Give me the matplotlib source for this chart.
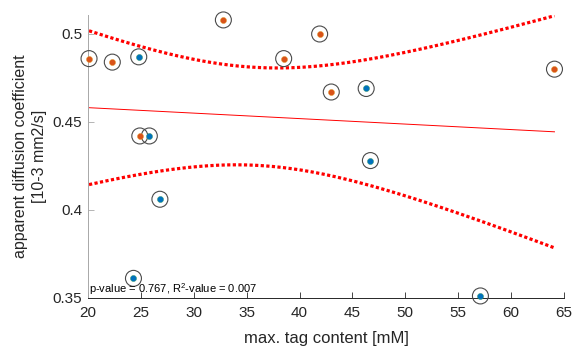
import numpy as np
import matplotlib
matplotlib.use("Agg")
import matplotlib.pyplot as plt

# Measurements: max. tag content [mM] vs. apparent diffusion coefficient
orange_x = [20.1, 22.3, 32.8, 38.5, 24.9, 41.9, 43.0, 64.1]
orange_y = [0.486, 0.484, 0.508, 0.486, 0.442, 0.500, 0.467, 0.480]
blue_x = [24.8, 25.8, 46.3, 46.7, 26.8, 24.3, 57.1]
blue_y = [0.487, 0.442, 0.469, 0.428, 0.406, 0.361, 0.351]

xticks = [20, 25, 30, 35, 40, 45, 50, 55, 60, 65]
yticks = [0.35, 0.4, 0.45, 0.5]
ytick_labels = ["0.35", "0.4", "0.45", "0.5"]
stats_text = "p-value = 0.767, R$^2$-value = 0.007"

plt.rcParams["font.family"] = ["Liberation Sans", "DejaVu Sans"]
plt.rcParams["mathtext.fontset"] = "custom"
plt.rcParams["mathtext.rm"] = "Liberation Sans"

ORANGE = "#D95319"
BLUE = "#0072BD"
TXT = "#262626"

# Linear fit with 95% confidence bounds of the mean
x = np.array(orange_x + blue_x)
y = np.array(orange_y + blue_y)
n = len(x)
slope, intercept = np.polyfit(x, y, 1)
resid = y - (intercept + slope * x)
s = np.sqrt(np.sum(resid**2) / (n - 2))
xbar = x.mean()
sxx = np.sum((x - xbar) ** 2)
t_crit = 2.160  # t(0.975, n-2)
xf = np.linspace(x.min(), x.max(), 200)
yf = intercept + slope * xf
half = t_crit * s * np.sqrt(1.0 / n + (xf - xbar) ** 2 / sxx)

fig = plt.figure(figsize=(5.83, 3.49), dpi=100)
ax = fig.add_axes([0.1509, 0.147, 0.8165, 0.81])

ax.plot(xf, yf, color="red", lw=0.7, zorder=2)
ax.plot(xf, yf + half, color="red", lw=2.3, linestyle=(0, (1.0, 0.75)),
        dash_capstyle="butt", zorder=2)
ax.plot(xf, yf - half, color="red", lw=2.3, linestyle=(0, (1.0, 0.75)),
        dash_capstyle="butt", zorder=2)

ax.scatter(x, y, s=11.5**2, facecolors="none", edgecolors="#4a4a4a",
           linewidths=0.8, zorder=3, clip_on=False)
ax.scatter(orange_x, orange_y, s=4.4**2, color=ORANGE, edgecolors="#e0a030",
           linewidths=0.3, zorder=4, clip_on=False)
ax.scatter(blue_x, blue_y, s=4.4**2, color=BLUE, edgecolors="#3a9a60",
           linewidths=0.3, zorder=4, clip_on=False)

ax.set_xlim(20, 65)
ax.set_ylim(0.35, 0.5108)
ax.set_xticks(xticks)
ax.set_yticks(yticks)
ax.set_yticklabels(ytick_labels)

for side in ("top", "right"):
    ax.spines[side].set_visible(False)
ax.spines["left"].set_color("#a8a8a8")
ax.spines["left"].set_linewidth(0.7)
ax.spines["bottom"].set_color(TXT)
ax.spines["bottom"].set_linewidth(0.7)
ax.tick_params(direction="in", length=4, width=0.6, labelsize=11,
               colors=TXT, labelcolor=TXT)
ax.tick_params(axis="x", pad=6)
ax.tick_params(axis="y", colors="#a8a8a8", labelcolor=TXT, pad=4)

ax.set_xlabel("max. tag content [mM]", fontsize=12, color=TXT, labelpad=8)
ax.set_ylabel("apparent diffusion coefficient\n[10-3 mm2/s]", fontsize=11.5,
              color=TXT, labelpad=4, linespacing=1.35)

ax.text(20.05, 0.3502, stats_text, fontsize=8.0, color="black",
        ha="left", va="bottom", zorder=5)

fig.savefig("out.png", dpi=100)
